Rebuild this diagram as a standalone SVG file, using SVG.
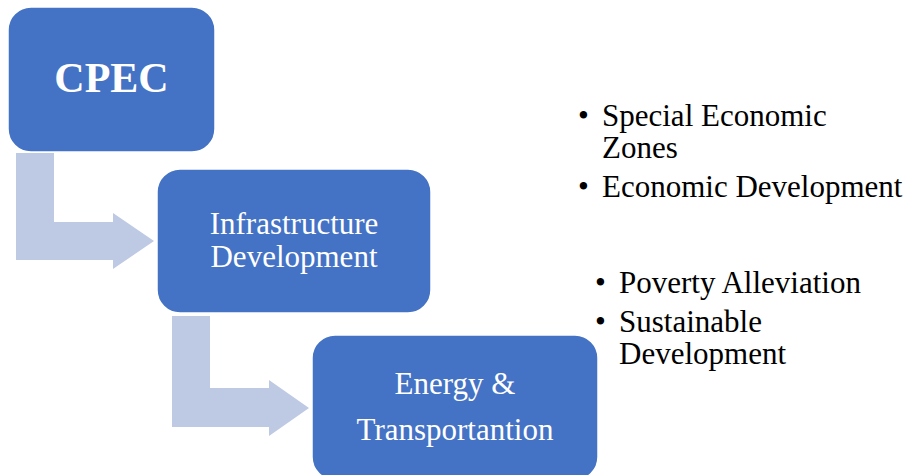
<svg xmlns="http://www.w3.org/2000/svg" width="920" height="475" viewBox="0 0 920 475">
<style>
.box{fill:#4472C4;stroke:#FFFFFF;stroke-width:1.5}
.arrow{fill:#BEC9E4}
.lbl{font-family:"Liberation Serif","Times New Roman",serif;fill:#FFFFFF;font-size:31px;text-anchor:middle}
.big{font-size:42px;font-weight:bold}
.txt{font-family:"Liberation Serif","Times New Roman",serif;fill:#000000;font-size:31px}
</style>
<rect width="920" height="475" fill="#FFFFFF"/>
<g id="connectors">
<polygon class="arrow" points="16,153 54,153 54,222 113,222 113,213 154,241 113,269 113,260 16,260"/>
<polygon class="arrow" points="172,316 210,316 210,388 269,388 269,380 309,408 269,436 269,427 172,427"/>
</g>
<g id="cpec">
<rect class="box" x="8" y="7" width="207" height="145" rx="23" ry="23"/>
<text class="lbl big" x="111.5" y="92">CPEC</text>
</g>
<g id="infrastructure">
<rect class="box" x="157" y="169" width="274" height="144" rx="23" ry="23"/>
<text class="lbl" x="294" y="234">Infrastructure</text>
<text class="lbl" x="294" y="267">Development</text>
</g>
<g id="energy">
<rect class="box" x="312" y="335" width="286" height="145" rx="23" ry="23"/>
<text class="lbl" x="455" y="394">Energy &amp;</text>
<text class="lbl" x="455" y="440">Transportantion</text>
</g>
<g id="list-economic">
<text class="txt" x="578" y="126">•</text>
<text class="txt" x="602" y="126">Special Economic</text>
<text class="txt" x="602" y="158">Zones</text>
<text class="txt" x="578" y="197">•</text>
<text class="txt" x="602" y="197">Economic Development</text>
</g>
<g id="list-social">
<text class="txt" x="595" y="293">•</text>
<text class="txt" x="619" y="293">Poverty Alleviation</text>
<text class="txt" x="595" y="332">•</text>
<text class="txt" x="619" y="332">Sustainable</text>
<text class="txt" x="619" y="364">Development</text>
</g>
</svg>
